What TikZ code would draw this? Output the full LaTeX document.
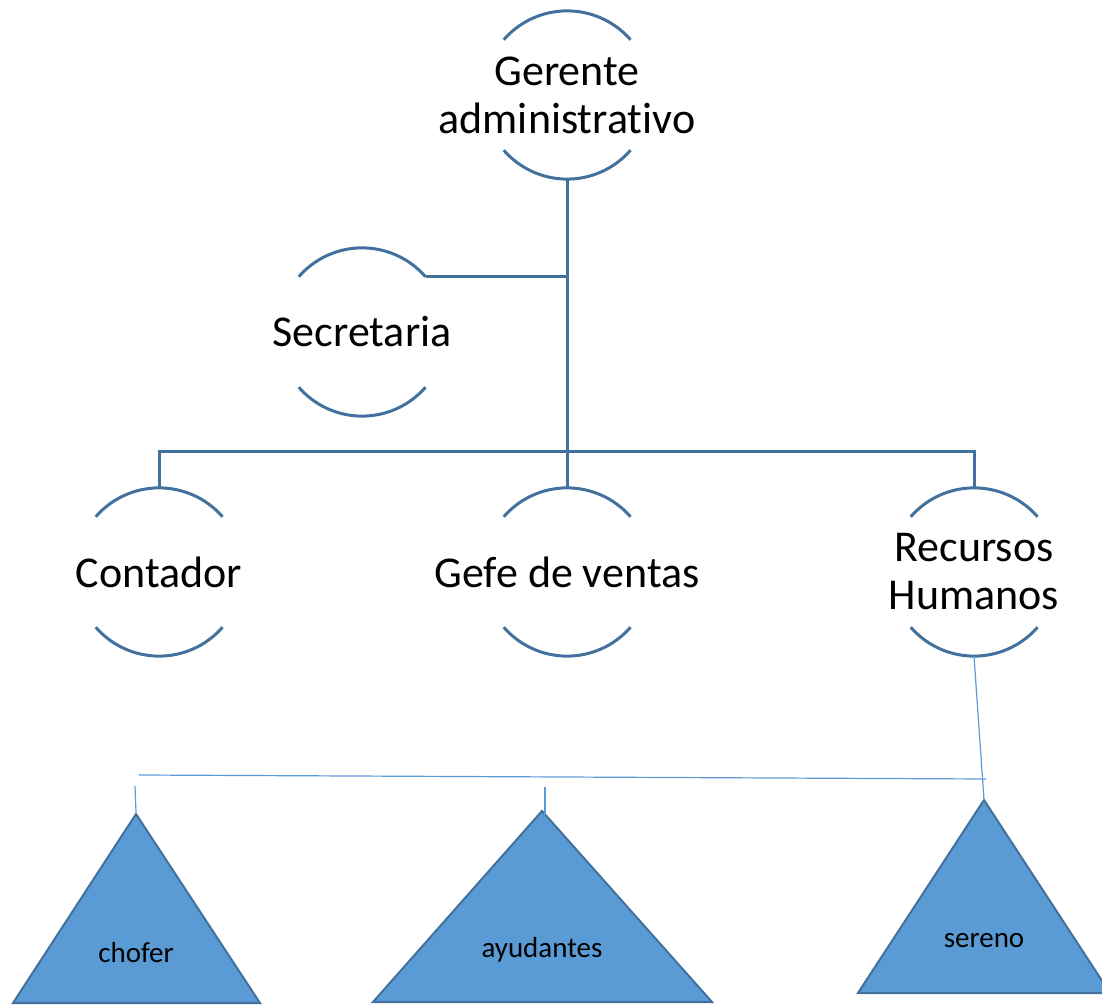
\documentclass[tikz,border=0pt]{standalone}
\usepackage{fontspec}
\setmainfont{Carlito}[Ligatures=NoCommon]
\definecolor{lineblue}{RGB}{65,113,156}
\definecolor{fillblue}{RGB}{91,155,213}
\tikzset{
  bigtext/.style={font=\fontsize{44}{48}\selectfont, align=center, inner sep=0pt},
  smalltext/.style={font=\fontsize{29}{32}\selectfont, inner sep=0pt},
  unit/.style={circle, minimum size=168pt, inner sep=0pt, label={[bigtext]center:#1}},
  arcline/.style={lineblue, line width=3pt},
  link/.style={lineblue, line width=3pt},
  thinlink/.style={fillblue, line width=1.2pt},
  tri/.style={fill=fillblue, draw=lineblue, line width=2pt, line join=miter}
}
\begin{document}
\begin{tikzpicture}[x=1pt,y=1pt]
  \useasboundingbox (0,0) rectangle (1102,1004);
  %Circles
  \node[unit={Gerente\\administrativo}] (gerente) at (567,909) {};
  \node[unit=Secretaria] (secretaria) at (362,672) {};
  \node[unit=Contador] (contador) at (159,432) {};
  \node[unit=Gefe de ventas] (ventas) at (567,432) {};
  \node[unit={Recursos\\Humanos}] (rrhh) at (974,432) {};
  \foreach \n in {gerente,secretaria,contador,ventas,rrhh}{
    \draw[arcline] (\n.41) arc[start angle=41, end angle=139, radius=84pt];
    \draw[arcline] (\n.-41) arc[start angle=-41, end angle=-139, radius=84pt];
  }
  %Links
  \coordinate (bus) at (567,552);
  \draw[link] (gerente.south) -- (ventas.north);
  \draw[link] (secretaria.41) -- (secretaria.41 -| gerente.south);
  \draw[link] (contador.north) |- (bus) -| (rrhh.north);
  %Triangles
  \coordinate (chofertop) at (136,190);
  \coordinate (ayudtop) at (542,193);
  \coordinate (serenotop) at (984,204);
  \draw[tri] (chofertop) -- ++(124,-189) -- ++(-247,0) -- cycle;
  \draw[tri] (ayudtop) -- ++(170,-191) -- ++(-339,0) -- cycle;
  \draw[tri] (serenotop) -- ++(126,-193) -- ++(-252,0) -- cycle;
  \node[smalltext] (chofer) at (136,51) {chofer};
  \node[smalltext] (ayudantes) at (542,54) {ayudantes};
  \node[smalltext] (sereno) at (984,63) {sereno};
  %Thin links
  \coordinate (busleft) at (139,229);
  \coordinate (busright) at (986,225);
  \draw[thinlink] (busleft) -- (busright);
  \draw[thinlink] (rrhh.south) -- (serenotop);
  \draw[thinlink] (135,218) -- ([yshift=2pt]chofertop);
  \draw[thinlink] (545,217) -- ([xshift=3pt,yshift=-4pt]ayudtop);
\end{tikzpicture}
\end{document}
